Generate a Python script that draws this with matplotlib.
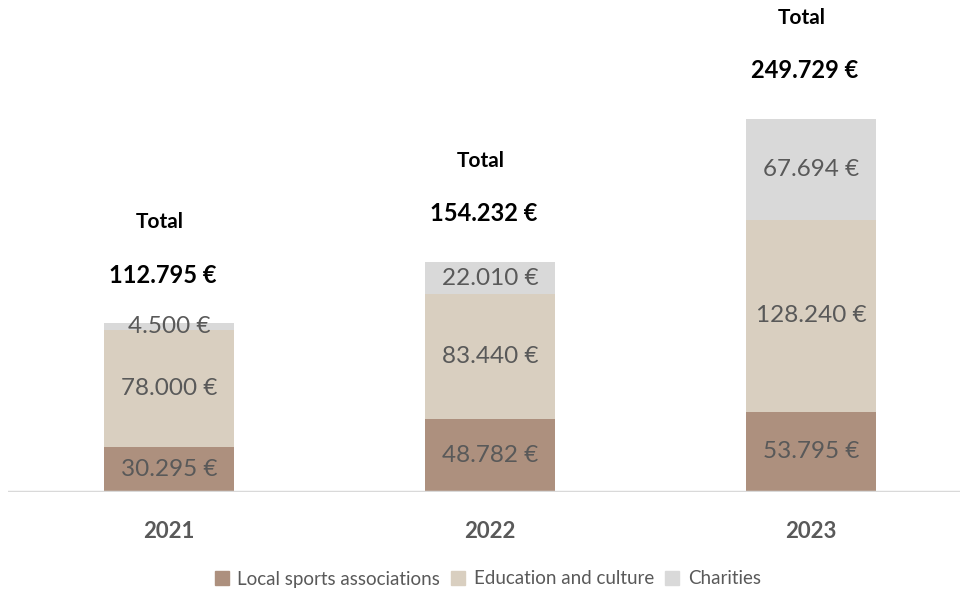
import matplotlib
matplotlib.use("Agg")
import matplotlib.pyplot as plt
from matplotlib.patches import Patch
import numpy as np

years = ["2021", "2022", "2023"]
sports = [30295, 48782, 53795]
education = [78000, 83440, 128240]
charities = [4500, 22010, 67694]
totals = [112795, 154232, 249729]
series_names = ["Local sports associations", "Education and culture", "Charities"]

COLORS = ["#AD907E", "#D9CFC0", "#D9D9D9"]
TXT = "#595959"
PX = 0.001494  # pixels per euro, used to offset total labels


def fmt(v):
    return f"{v:,}".replace(",", ".") + " €"


fig = plt.figure(figsize=(9.6, 5.92), dpi=100)
ax = fig.add_axes([8 / 960, 1 - 492 / 592, 952 / 960, 492 / 592])

x = np.arange(len(years))
w = 0.405
bottom = np.zeros(len(years))
for vals, col, name in zip([sports, education, charities], COLORS, series_names):
    ax.bar(x, vals, w, bottom=bottom, color=col, label=name, zorder=2)
    for xi, v, b in zip(x, vals, bottom):
        ax.text(xi, b + v / 2, fmt(v), ha="center", va="center",
                fontsize=17.5, color=TXT, family="Lato", zorder=3)
    bottom += np.array(vals)

for xi, t in zip(x, totals):
    ax.text(xi - 0.02, t + 48 / PX, fmt(t), ha="center", va="center",
            fontsize=17, fontweight="bold", color="black", family="Lato")
    ax.text(xi - 0.03, t + 101 / PX, "Total", ha="center", va="center",
            fontsize=15, fontweight="bold", color="black", family="Lato")

ax.set_xlim(-0.5016, 2.464)
ax.set_ylim(0, 329300)
ax.axhline(0, color="#D9D9D9", lw=2.5, zorder=4)
for s in ax.spines.values():
    s.set_visible(False)
ax.set_yticks([])
ax.set_xticks(x)
ax.set_xticklabels(years, fontsize=16, fontweight="bold", color=TXT, family="Lato")
ax.tick_params(axis="x", length=0, pad=21)

handles = [Patch(color=c, label=n) for c, n in zip(COLORS, series_names)]
fig.legend(handles=handles, loc="center", bbox_to_anchor=(0.508, 1 - 579 / 592),
           ncol=3, frameon=False, labelcolor=TXT,
           handlelength=0.75, handleheight=0.75, handletextpad=0.45, columnspacing=0.6,
           prop={"family": "Lato", "size": 13.5})

fig.savefig("out.png", dpi=100)
